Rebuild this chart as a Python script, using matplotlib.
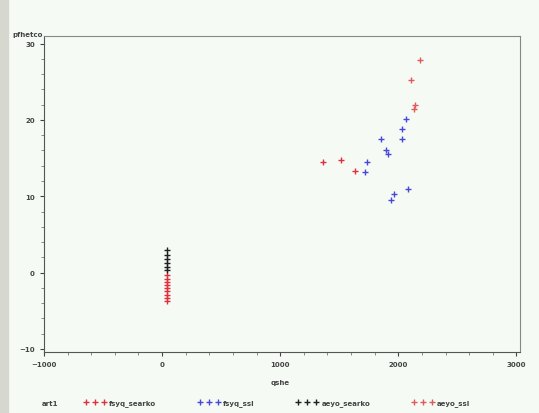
import numpy as np
import matplotlib.pyplot as plt
from matplotlib.lines import Line2D
from matplotlib.ticker import MultipleLocator

# series values (qshe, pfhetco)
fsyq_searko_x = [40, 40, 40, 40, 40, 40, 40, 40, 40, 1364, 1517, 1636]
fsyq_searko_y = [-0.3, -0.8, -1.2, -1.6, -2.0, -2.4, -2.9, -3.3, -3.7, 14.5, 14.7, 13.3]

fsyq_ssl_x = [2068, 2034, 2034, 1856, 1898, 1915, 1737, 1720, 2085, 1966, 1941]
fsyq_ssl_y = [20.1, 18.8, 17.5, 17.5, 16.0, 15.5, 14.5, 13.2, 10.9, 10.3, 9.5]

aeyo_searko_x = [40, 40, 40, 40, 40, 40]
aeyo_searko_y = [2.9, 2.3, 1.8, 1.3, 0.8, 0.4]

aeyo_ssl_x = [2180, 2110, 2135, 2140]
aeyo_ssl_y = [27.9, 25.3, 21.4, 22.0]

labels = ["fsyq_searko", "fsyq_ssl", "aeyo_searko", "aeyo_ssl"]
colors = ["#e0303c", "#4848d8", "#202020", "#e05a5a"]

xticks = [-1000, 0, 1000, 2000, 3000]
yticks = [-10, 0, 10, 20, 30]

bg = "#f5faf5"
fig = plt.figure(figsize=(5.39, 4.14), dpi=100, facecolor=bg)
fig.patches.append(plt.Rectangle((0, 0), 8 / 539, 1, transform=fig.transFigure,
                                 color="#d6d8d0", zorder=0))

ax = fig.add_axes([44 / 539, 1 - 353 / 414, 476 / 539, 316 / 414], facecolor=bg)

series = [(fsyq_searko_x, fsyq_searko_y), (fsyq_ssl_x, fsyq_ssl_y),
          (aeyo_searko_x, aeyo_searko_y), (aeyo_ssl_x, aeyo_ssl_y)]
for (xs, ys), c in zip(series, colors):
    ax.plot(xs, ys, linestyle="none", marker="+", markersize=5, mew=1.0, color=c)

ax.set_xlim(-1000, 3030)
ax.set_ylim(-10.4, 31)
ax.set_xticks(xticks)
ax.set_yticks(yticks)
ax.xaxis.set_minor_locator(MultipleLocator(200))
ax.yaxis.set_minor_locator(MultipleLocator(2))
ax.tick_params(labelsize=5, colors="#444444", length=3, width=0.8)
ax.tick_params(which="minor", length=2, width=0.6, colors="#777777")
for lab in ax.get_xticklabels() + ax.get_yticklabels():
    lab.set_fontweight("bold")
for s in ax.spines.values():
    s.set_color("#888888")
    s.set_linewidth(0.8)
ax.spines["left"].set_color("#555555")
ax.spines["bottom"].set_color("#555555")

fig.text(12 / 539, 1 - 35 / 414, "pfhetco", fontsize=5, fontweight="bold",
         color="#444444", va="center")
fig.text(280 / 539, 1 - 383 / 414, "qshe", fontsize=5, fontweight="bold",
         color="#444444", ha="center", va="center")

# legend row
fig.text(42 / 539, 1 - 404 / 414, "art1", fontsize=5, fontweight="bold",
         color="#444444", va="center")
handles = [Line2D([], [], linestyle="none", marker="+", markersize=5, mew=1.0, color=c)
           for c in colors]
fig.legend(handles, labels, ncol=4, loc="center left",
           bbox_to_anchor=(78 / 539, 1 - 404 / 414), frameon=False,
           numpoints=3, handlelength=3.2, columnspacing=6.0, handletextpad=0.4,
           prop={"size": 5, "weight": "bold"}, labelcolor="#444444")

fig.savefig("out.png", dpi=100, facecolor=bg)
